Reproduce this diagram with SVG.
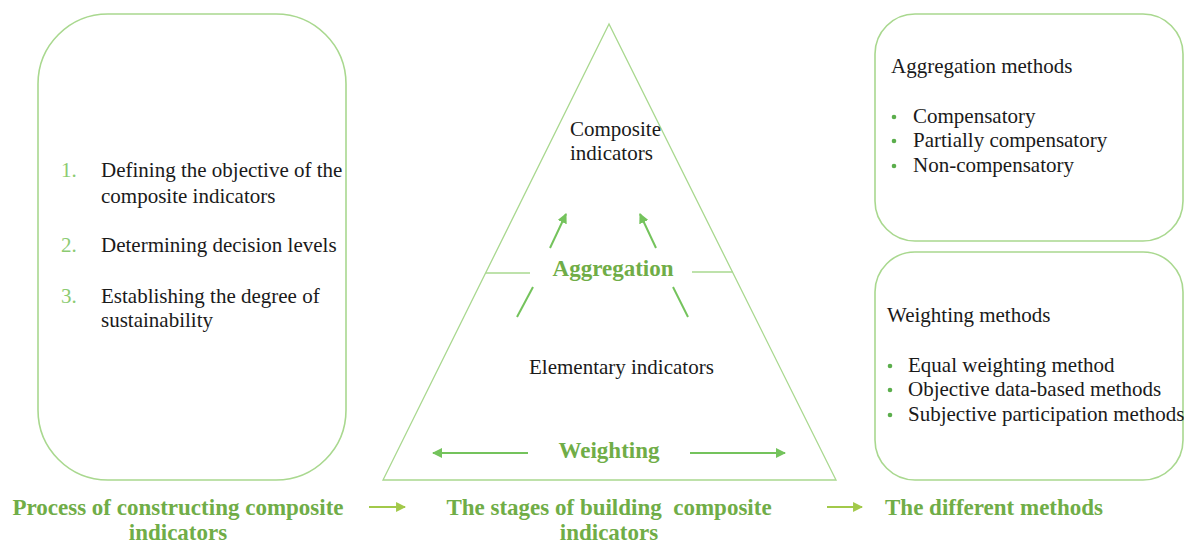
<svg xmlns="http://www.w3.org/2000/svg" width="1184" height="543" viewBox="0 0 1184 543">
<defs>
<style>
.box{fill:none;stroke:#A9D88F;stroke-width:1.6}
.tri{fill:none;stroke:#A9D88F;stroke-width:1.3}
.t{font-size:21px;fill:#1a1a1a}
.num{font-size:21px;fill:#8CCB72}
.bul{fill:#5BAE4C}
.h{font-size:23px;font-weight:bold;fill:#70AD47}
.ar{stroke:#74C35C;stroke-width:2;fill:none}
.ln{stroke:#74C35C;stroke-width:2;fill:none}
.ar2{stroke:#A2C94A;stroke-width:2.2;fill:none}
</style>
<marker id="ah" viewBox="0 0 10 10" refX="9" refY="5" markerWidth="5" markerHeight="5" orient="auto" markerUnits="strokeWidth">
<path d="M0,0 L10,5 L0,10 z" fill="#74C35C"/>
</marker>
<marker id="ah2" viewBox="0 0 10 10" refX="9" refY="5" markerWidth="4.5" markerHeight="4.5" orient="auto" markerUnits="strokeWidth">
<path d="M0,0 L10,5 L0,10 z" fill="#A2C94A"/>
</marker>
</defs>

<g font-family="Liberation Serif, Times New Roman, serif">
<g id="process-box">
<rect class="box" x="38" y="14" width="308" height="466" rx="70" ry="70"/>
<text class="num" x="61" y="177">1.</text>
<text class="t" x="101" y="177">Defining the objective of the</text>
<text class="t" x="101" y="203">composite indicators</text>
<text class="num" x="61" y="252">2.</text>
<text class="t" x="101" y="252">Determining decision levels</text>
<text class="num" x="61" y="303">3.</text>
<text class="t" x="101" y="303">Establishing the degree of</text>
<text class="t" x="101" y="327">sustainability</text>
</g>

<g id="pyramid">
<polygon class="tri" points="609,24 383,480 836,480"/>
<line class="tri" x1="486" y1="273" x2="530" y2="273"/>
<line class="tri" x1="692" y1="272" x2="733" y2="272"/>
<text class="t" x="570" y="136">Composite</text>
<text class="t" x="570" y="160">indicators</text>
<text class="h" x="613" y="276" text-anchor="middle">Aggregation</text>
<text class="t" x="529" y="374">Elementary indicators</text>
<text class="h" x="609" y="458" text-anchor="middle">Weighting</text>
</g>

<g id="aggregation-methods">
<rect class="box" x="875" y="14" width="308" height="227" rx="40" ry="40"/>
<text class="t" x="891" y="73">Aggregation methods</text>
<circle class="bul" cx="894" cy="117" r="2.3"/>
<text class="t" x="913" y="123">Compensatory</text>
<circle class="bul" cx="894" cy="141" r="2.3"/>
<text class="t" x="913" y="147">Partially compensatory</text>
<circle class="bul" cx="894" cy="166" r="2.3"/>
<text class="t" x="913" y="172">Non-compensatory</text>
</g>

<g id="weighting-methods">
<rect class="box" x="875" y="252" width="308" height="228" rx="40" ry="40"/>
<text class="t" x="887" y="322">Weighting methods</text>
<circle class="bul" cx="890" cy="366" r="2.3"/>
<text class="t" x="908" y="372">Equal weighting method</text>
<circle class="bul" cx="890" cy="390" r="2.3"/>
<text class="t" x="908" y="396">Objective data-based methods</text>
<circle class="bul" cx="890" cy="415" r="2.3"/>
<text class="t" x="908" y="421">Subjective participation methods</text>
</g>

<g id="titles">
<text class="h" x="178" y="515" text-anchor="middle">Process of constructing composite</text>
<text class="h" x="178" y="540" text-anchor="middle">indicators</text>
<text class="h" x="609" y="515" text-anchor="middle" xml:space="preserve">The stages of building  composite</text>
<text class="h" x="609" y="540" text-anchor="middle">indicators</text>
<text class="h" x="885" y="515">The different methods</text>
</g>
</g>

<g id="connectors">
<line class="ar" x1="550" y1="248" x2="566" y2="214" marker-end="url(#ah)"/>
<line class="ar" x1="656" y1="248" x2="640" y2="214" marker-end="url(#ah)"/>
<line class="ln" x1="533" y1="287" x2="517" y2="317"/>
<line class="ln" x1="673" y1="287" x2="688" y2="317"/>
<line class="ar" x1="528" y1="453" x2="433" y2="453" marker-end="url(#ah)"/>
<line class="ar" x1="690" y1="453" x2="785" y2="453" marker-end="url(#ah)"/>
<line class="ar2" x1="369" y1="507" x2="405" y2="507" marker-end="url(#ah2)"/>
<line class="ar2" x1="827" y1="507" x2="862" y2="507" marker-end="url(#ah2)"/>
</g>
</svg>
